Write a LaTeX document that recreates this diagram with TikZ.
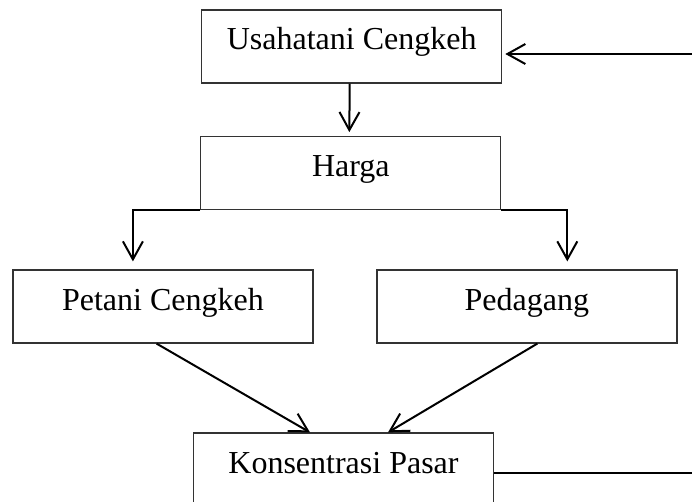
\documentclass[tikz,border=0pt]{standalone}
\usepackage{fontspec}
\setmainfont{Liberation Serif}
\usetikzlibrary{arrows.meta}
\begin{document}
\begin{tikzpicture}[x=1pt,y=1pt,
  box/.style={draw=black!80,line width=1.2pt,rectangle,inner xsep=0pt,inner ysep=0pt,
    minimum width=300pt,text height=40pt,text depth=33pt,anchor=base,
    font=\fontsize{32}{35}\selectfont},
  arr/.style={draw=black,line width=2pt,-{Straight Barb[length=18pt,width=20pt,line width=2pt]}},
  lin/.style={draw=black,line width=2pt}]
\useasboundingbox (0,0) rectangle (692,-502);
\node[box] (top) at (351.7,-50) {Usahatani Cengkeh};
\node[box] (harga) at (350.8,-176.7) {Harga};
\node[box] (petani) at (162.9,-310) {Petani Cengkeh};
\node[box] (pedagang) at (526.9,-310) {Pedagang};
\node[box,text depth=40pt] (kon) at (343.5,-473) {Konsentrasi Pasar};
\coordinate (inR) at (692,-54);
\coordinate (outR) at (692,0);
\draw[arr,shorten >=3pt] (inR) -- (inR -| top.east);
\draw[arr,shorten >=4pt] ([xshift=-2pt]top.south) -- ([xshift=-1.5pt]harga.north);
\draw[arr,shorten >=8pt] (harga.south west) -| ([xshift=-30pt]petani.north);
\draw[arr,shorten >=8pt] (harga.south east) -| ([xshift=40.4pt]pedagang.north);
\draw[arr] ([xshift=-6.3pt]petani.south) -- ([xshift=-33.5pt]kon.north);
\draw[arr] ([xshift=10.4pt]pedagang.south) -- ([xshift=44.5pt]kon.north);
\draw[lin] (kon.east) -- (kon.east -| outR);
\end{tikzpicture}
\end{document}
